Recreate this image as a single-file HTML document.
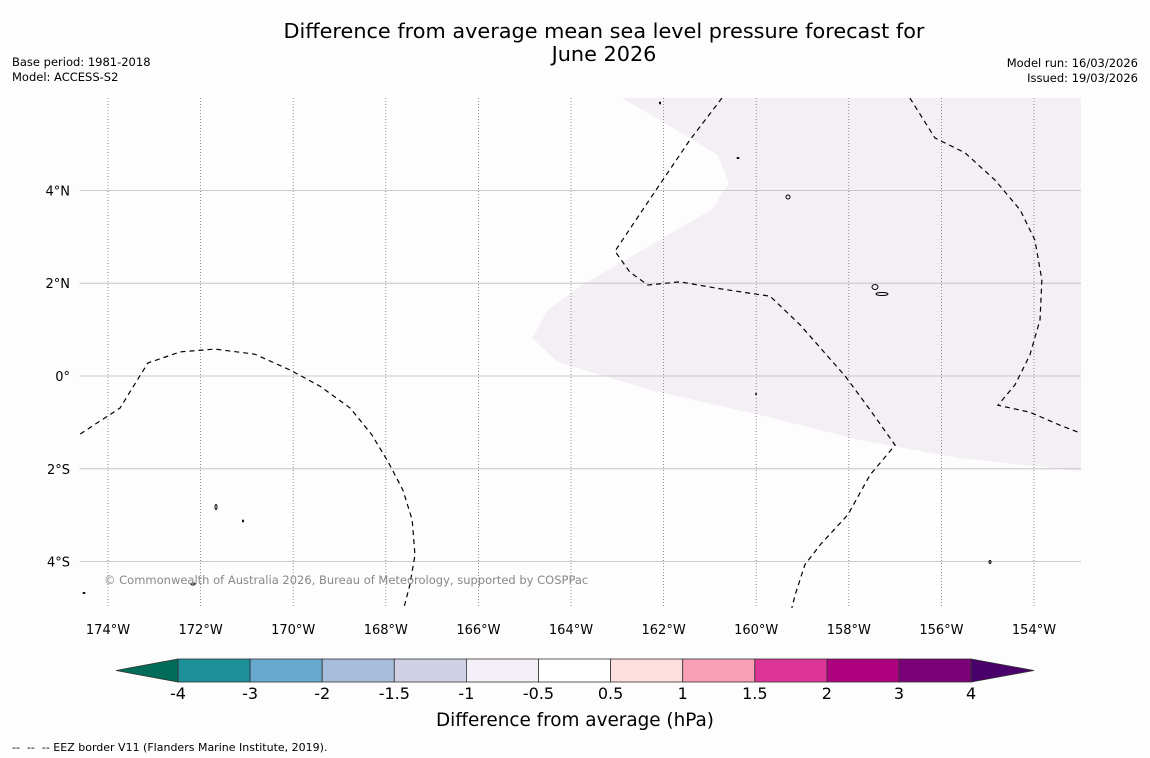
<!DOCTYPE html>
<html><head><meta charset="utf-8"><style>
body{margin:0;background:#fdfdfd;width:1150px;height:758px;overflow:hidden;font-family:"DejaVu Sans","Liberation Sans",sans-serif}
svg{position:absolute;left:0;top:0}
</style></head><body>
<svg id="chart" width="1150" height="758">
<text x="604" y="38" text-anchor="middle" font-size="20.8">Difference from average mean sea level pressure forecast for</text>
<text x="604" y="61" text-anchor="middle" font-size="20.8">June 2026</text>
<text x="12" y="66" font-size="11.5">Base period: 1981-2018</text>
<text x="12" y="81" font-size="11.5">Model: ACCESS-S2</text>
<text x="1138" y="67" font-size="11.5" text-anchor="end">Model run: 16/03/2026</text>
<text x="1138" y="82" font-size="11.5" text-anchor="end">Issued: 19/03/2026</text>
<g id="map"></g>
<g id="cbar"></g>
<text x="575" y="726" text-anchor="middle" font-size="18.4">Difference from average (hPa)</text>
<text x="12" y="751" font-size="11" xml:space="preserve" style="white-space:pre">--  --  -- EEZ border V11 (Flanders Marine Institute, 2019).</text>
</svg>
<script>
const NS="http://www.w3.org/2000/svg";
const lonTicks=[-174,-172,-170,-168,-166,-164,-162,-160,-158,-156,-154];
const lonLabels=["174°W","172°W","170°W","168°W","166°W","164°W","162°W","160°W","158°W","156°W","154°W"];
const latTicks=[4,2,0,-2,-4];
const latLabels=["4°N","2°N","0°","2°S","4°S"];
const levels=[-4,-3,-2,-1.5,-1,-0.5,0.5,1,1.5,2,3,4];
const levelLabels=["-4","-3","-2","-1.5","-1","-0.5","0.5","1","1.5","2","3","4"];
const levelColors=["#1b9099","#67a9cf","#a6bddb","#d0d1e6","#f5eff7","#ffffff","#fde0dd","#fa9fb5","#dd3497","#ae017e","#7a0177"];
const extColors=["#016c59","#49006a"];
const shadeLon=[-162.90,-162.08,-160.83,-160.59,-160.95,-162.08,-163.76,-164.50,-164.84,-164.28,-162.29,-159.92,-157.76,-155.60,-152.98,-152.98];
const shadeLat=[5.99,5.52,4.76,4.16,3.60,2.93,1.96,1.42,0.82,0.30,-0.30,-0.84,-1.38,-1.77,-2.05,6.0];
const eezA=[[-174.6,-1.25],[-173.74,-0.69],[-173.14,0.28],[-172.44,0.52],[-171.69,0.58],[-170.83,0.47],[-170.07,0.13],[-169.42,-0.22],[-168.77,-0.69],[-168.3,-1.27],[-167.95,-1.85],[-167.63,-2.46],[-167.43,-3.1],[-167.37,-3.86],[-167.48,-4.5],[-167.61,-5.0]];
const eezB=[[-160.74,5.99],[-161.43,5.09],[-162.19,3.97],[-163.05,2.69],[-162.73,2.24],[-162.34,1.96],[-161.65,2.03],[-160.78,1.88],[-159.7,1.72],[-159.05,1.1],[-158.08,0.0],[-157.54,-0.73],[-157.0,-1.49],[-157.54,-2.13],[-158.02,-2.99],[-158.62,-3.64],[-158.95,-4.07],[-159.16,-4.72],[-159.23,-5.0]];
const eezC=[[-156.68,5.99],[-156.14,5.13],[-155.49,4.81],[-154.84,4.22],[-154.3,3.58],[-153.98,2.93],[-153.83,2.07],[-153.87,1.21],[-154.09,0.45],[-154.41,-0.19],[-154.78,-0.63],[-154.09,-0.78],[-153.44,-1.06],[-153.05,-1.21]];
const x0=108,pxPerLon=46.3,y0=376,pxPerLat=46.4;
const X=lon=>x0+(lon+174)*pxPerLon;
const Y=lat=>y0-lat*pxPerLat;
const L=79.5,R=1081,T=98,B=608;
function el(t,a,p){const e=document.createElementNS(NS,t);for(const k in a)e.setAttribute(k,a[k]);p.appendChild(e);return e;}
const map=document.getElementById('map');
const clip=el('clipPath',{id:'mc'},map);el('rect',{x:L,y:T,width:R-L,height:B-T},clip);
const g=el('g',{'clip-path':'url(#mc)'},map);
const sh=el('polygon',{points:shadeLon.map((v,i)=>X(v)+','+Y(shadeLat[i])).join(' '),fill:'#f4eef5'},g);


lonTicks.forEach((v,i)=>{
 const ln=el('line',{x1:X(v),x2:X(v),y1:T,y2:B,stroke:'#777','stroke-width':0.8,'stroke-dasharray':'1,2'},g);
 
 
 const t=el('text',{x:X(v),y:634,'text-anchor':'middle','font-size':13},map);t.textContent=lonLabels[i];
 
 
});
latTicks.forEach((v,i)=>{
 const ln=el('line',{x1:L,x2:R,y1:Y(v),y2:Y(v),stroke:'#bbb','stroke-width':0.8},g);
 
 
 const t=el('text',{x:70,y:Y(v)+5,'text-anchor':'end','font-size':13},map);t.textContent=latLabels[i];
 
 
});
[eezA,eezB,eezC].forEach((pts,i)=>{
 const p=el('polyline',{points:pts.map(q=>X(q[0])+','+Y(q[1])).join(' '),fill:'none',stroke:'#000','stroke-width':1.2,'stroke-dasharray':'5,4'},g);
 
 
});
[[216,507,1,2.5],[193,584,2,1],[788,197,2,2],[875,287,3,2.5],[882,294,6,1.5],[990,562,1,1.5],[660,103,0.5,1],[738,158,1,0.5],[84,593,1,0.5],[243,521,0.5,1],[756,394,0.5,0.5]].forEach(c=>{
 const e=el('ellipse',{cx:c[0],cy:c[1],rx:c[2],ry:c[3],fill:'none',stroke:'#000','stroke-width':1},g);
 
 
});
const cp=el('text',{x:104,y:584,'font-size':11.5,fill:'#888'},map);cp.textContent='© Commonwealth of Australia 2026, Bureau of Meteorology, supported by COSPPac';


const cb=document.getElementById('cbar');
const cx0=178,segW=72.1,cy=659,ch=23;
const CX=i=>cx0+i*segW;
levelColors.forEach((c,i)=>{
 const r=el('rect',{x:CX(i),y:cy,width:segW,height:ch,fill:c,stroke:'#333','stroke-width':0.8},cb);
 
 
});
const le=el('polygon',{points:`${CX(0)},${cy} 116,${cy+ch/2} ${CX(0)},${cy+ch}`,fill:extColors[0],stroke:'#333','stroke-width':0.8},cb);


const n=levelColors.length;
const re=el('polygon',{points:`${CX(n)},${cy} 1034,${cy+ch/2} ${CX(n)},${cy+ch}`,fill:extColors[1],stroke:'#333','stroke-width':0.8},cb);


levels.forEach((v,i)=>{
 const t=el('text',{x:CX(i),y:699,'text-anchor':'middle','font-size':16},cb);t.textContent=levelLabels[i];
 
 
});
</script>
</body></html>
